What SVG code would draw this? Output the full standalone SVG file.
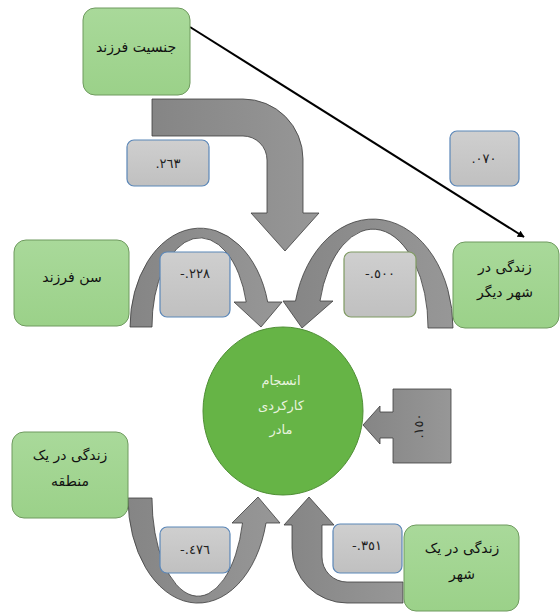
<svg xmlns="http://www.w3.org/2000/svg" width="560" height="613" viewBox="0 0 560 613">
<defs>
<linearGradient id="gNode" x1="0" y1="0" x2="0" y2="1">
<stop offset="0" stop-color="#a9d99a"/><stop offset="1" stop-color="#9bd189"/>
</linearGradient>
<linearGradient id="gLab" x1="0" y1="0" x2="0" y2="1">
<stop offset="0" stop-color="#cfcfcf"/><stop offset="1" stop-color="#c0c0c0"/>
</linearGradient>
<linearGradient id="gArr" x1="0" y1="0" x2="1" y2="0">
<stop offset="0" stop-color="#858585"/><stop offset="1" stop-color="#979797"/>
</linearGradient>
<marker id="ah" viewBox="0 0 10 10" refX="9" refY="5" markerWidth="7" markerHeight="7" orient="auto" markerUnits="userSpaceOnUse">
<path d="M0,0 L10,5 L0,10 Z" fill="#000"/>
</marker>
<style>
.node{fill:url(#gNode);stroke:#6f9a5f;stroke-width:1}
.lab{fill:url(#gLab);stroke:#5b87b8;stroke-width:1.2}
.arr{fill:url(#gArr);stroke:#3c3c3c;stroke-width:0.8}
.nt{font-family:"DejaVu Sans","Noto Sans",sans-serif;font-size:14px;fill:#111;text-anchor:middle;direction:rtl}
.lt{font-family:"DejaVu Sans","Noto Sans",sans-serif;font-size:13px;fill:#222;text-anchor:middle;direction:ltr;unicode-bidi:bidi-override}
.ct{font-family:"DejaVu Sans","Noto Sans",sans-serif;font-size:13px;fill:#e8f3df;text-anchor:middle;direction:rtl}
</style>
</defs>
<rect width="560" height="613" fill="#fff"/>

<g id="connectors">
<line x1="190" y1="27" x2="524" y2="237" stroke="#000" stroke-width="2" marker-end="url(#ah)"/>
<path class="arr" d="M152,99 H243 A60,60 0 0 1 303,159 V213 H319 L285,251 L251,213 H267 V160 A24,24 0 0 0 243,136 H152 Z"/>
<path class="arr" d="M130,327 A70,99 0 0 1 267.7,302 L282,302 L261,327 L234,302 L246.2,302 A48,88 0 0 0 152,327 Z"/>
<path class="arr" d="M453,328 A80,109 0 0 0 295.5,301 L283,301 L302,328 L333,301 L320,301 A55,98 0 0 1 428,328 Z"/>
<path class="arr" d="M128,498 A70,105 0 0 0 266,523 L280,523 L258,497 L232,523 L242.5,523 A46,98 0 0 1 152,498 Z"/>
<path class="arr" d="M403,582 H347 A25,25 0 0 1 322,557 V525 H334 L309,497 L284,525 H292 V548 A55,55 0 0 0 347,603 H403 Z"/>
<path class="arr" d="M393,389 H451 V463 H393 V438 H380 V444 L363,425 L380,406 V412 H393 Z"/>
</g>

<g id="n-gender"><rect class="node" x="83" y="8" width="107" height="87" rx="12"/><text class="nt" x="136" y="52">جنسیت فرزند</text></g>
<g id="n-age"><rect class="node" x="14" y="240" width="115" height="86" rx="12"/><text class="nt" x="72" y="282">سن فرزند</text></g>
<g id="n-othercity"><rect class="node" x="453" y="242" width="106" height="86" rx="12"/><text class="nt" x="505" y="272">زندگی در</text><text class="nt" x="505" y="297">شهر دیگر</text></g>
<g id="n-region"><rect class="node" x="12" y="432" width="116" height="86" rx="12"/><text class="nt" x="70" y="460">زندگی در یک</text><text class="nt" x="70" y="486">منطقه</text></g>
<g id="n-city"><rect class="node" x="404" y="525" width="115" height="86" rx="12"/><text class="nt" x="462" y="553">زندگی در یک</text><text class="nt" x="462" y="579">شهر</text></g>

<g id="n-center"><ellipse cx="283" cy="411" rx="80" ry="84" fill="#66b446" stroke="#4f8f35" stroke-width="1"/>
<text class="ct" x="281" y="385">انسجام</text><text class="ct" x="281" y="410">کارکردی</text><text class="ct" x="281" y="434">مادر</text></g>

<g id="l-263"><rect class="lab" x="127" y="140" width="82" height="46" rx="7"/><text class="lt" x="168" y="168">.٢٦٣</text></g>
<g id="l-070"><rect class="lab" x="450" y="131" width="69" height="55" rx="7"/><text class="lt" x="484" y="163">.٠٧٠</text></g>
<g id="l-228"><rect class="lab" x="160" y="252" width="70" height="65" rx="7"/><text class="lt" x="195" y="278">-.٢٢٨</text></g>
<g id="l-500"><rect class="lab" x="344" y="252" width="72" height="65" rx="7" style="stroke:#7f9a62"/><text class="lt" x="380" y="278">-.٥٠٠</text></g>
<g id="l-476"><rect class="lab" x="160" y="527" width="70" height="46" rx="7"/><text class="lt" x="195" y="554">-.٤٧٦</text></g>
<g id="l-351"><rect class="lab" x="333" y="524" width="69" height="49" rx="7"/><text class="lt" x="367" y="550">-.٣٥١</text></g>
<g id="l-150"><text class="lt" x="0" y="0" transform="translate(423,426) rotate(-90)">.١٥٠</text></g>
</svg>
